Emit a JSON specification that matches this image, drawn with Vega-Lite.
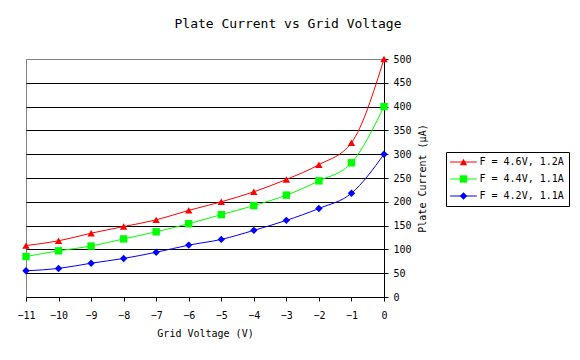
{
  "$schema": "https://vega.github.io/schema/vega-lite/v6.json",
  "width": 358,
  "height": 238,
  "autosize": {"type": "none"},
  "padding": {"left": 26, "top": 59, "right": 196, "bottom": 63},
  "background": "white",
  "title": {
    "text": "Plate Current vs Grid Voltage",
    "font": "DejaVu Sans Mono",
    "fontSize": 13,
    "fontWeight": "normal",
    "color": "black",
    "anchor": "middle",
    "frame": "group",
    "dx": 83,
    "offset": 23
  },
  "data": {
    "values": [
      {"v": -11, "s": "F = 4.6V, 1.2A", "i": 108},
      {"v": -10, "s": "F = 4.6V, 1.2A", "i": 118},
      {"v": -9, "s": "F = 4.6V, 1.2A", "i": 134},
      {"v": -8, "s": "F = 4.6V, 1.2A", "i": 148},
      {"v": -7, "s": "F = 4.6V, 1.2A", "i": 162},
      {"v": -6, "s": "F = 4.6V, 1.2A", "i": 182},
      {"v": -5, "s": "F = 4.6V, 1.2A", "i": 200},
      {"v": -4, "s": "F = 4.6V, 1.2A", "i": 221},
      {"v": -3, "s": "F = 4.6V, 1.2A", "i": 247},
      {"v": -2, "s": "F = 4.6V, 1.2A", "i": 278},
      {"v": -1, "s": "F = 4.6V, 1.2A", "i": 324},
      {"v": 0, "s": "F = 4.6V, 1.2A", "i": 500},
      {"v": -11, "s": "F = 4.4V, 1.1A", "i": 85},
      {"v": -10, "s": "F = 4.4V, 1.1A", "i": 97},
      {"v": -9, "s": "F = 4.4V, 1.1A", "i": 107},
      {"v": -8, "s": "F = 4.4V, 1.1A", "i": 122},
      {"v": -7, "s": "F = 4.4V, 1.1A", "i": 137},
      {"v": -6, "s": "F = 4.4V, 1.1A", "i": 154},
      {"v": -5, "s": "F = 4.4V, 1.1A", "i": 173},
      {"v": -4, "s": "F = 4.4V, 1.1A", "i": 192},
      {"v": -3, "s": "F = 4.4V, 1.1A", "i": 214},
      {"v": -2, "s": "F = 4.4V, 1.1A", "i": 244},
      {"v": -1, "s": "F = 4.4V, 1.1A", "i": 282},
      {"v": 0, "s": "F = 4.4V, 1.1A", "i": 400},
      {"v": -11, "s": "F = 4.2V, 1.1A", "i": 55},
      {"v": -10, "s": "F = 4.2V, 1.1A", "i": 60},
      {"v": -9, "s": "F = 4.2V, 1.1A", "i": 71},
      {"v": -8, "s": "F = 4.2V, 1.1A", "i": 81},
      {"v": -7, "s": "F = 4.2V, 1.1A", "i": 94},
      {"v": -6, "s": "F = 4.2V, 1.1A", "i": 109},
      {"v": -5, "s": "F = 4.2V, 1.1A", "i": 121},
      {"v": -4, "s": "F = 4.2V, 1.1A", "i": 140},
      {"v": -3, "s": "F = 4.2V, 1.1A", "i": 161},
      {"v": -2, "s": "F = 4.2V, 1.1A", "i": 186},
      {"v": -1, "s": "F = 4.2V, 1.1A", "i": 218},
      {"v": 0, "s": "F = 4.2V, 1.1A", "i": 300}
    ]
  },
  "encoding": {
    "x": {
      "field": "v",
      "type": "quantitative",
      "scale": {"domain": [-11, 0], "nice": false, "zero": false},
      "axis": {
        "title": "Grid Voltage (V)",
        "values": [-11, -10, -9, -8, -7, -6, -5, -4, -3, -2, -1, 0],
        "grid": false,
        "domainColor": "black",
        "tickColor": "black",
        "tickSize": 4,
        "labelPadding": 9,
        "titlePadding": 8,
        "labelFont": "DejaVu Sans Mono",
        "labelFontSize": 10,
        "labelColor": "black",
        "titleFont": "DejaVu Sans Mono",
        "titleFontSize": 10,
        "titleFontWeight": "normal",
        "titleColor": "black",
        "labelFlush": false
      }
    },
    "y": {
      "field": "i",
      "type": "quantitative",
      "scale": {"domain": [0, 500], "nice": false},
      "axis": {
        "orient": "right",
        "title": "Plate Current (µA)",
        "titleAngle": 270,
        "titleBaseline": "top",
        "values": [0, 50, 100, 150, 200, 250, 300, 350, 400, 450, 500],
        "grid": true,
        "gridColor": {"condition": {"test": "datum.value == 500 || datum.value == 0", "value": "#808080"}, "value": "black"},
        "gridOpacity": 1,
        "domainColor": "black",
        "tickColor": "black",
        "tickSize": 4,
        "labelPadding": 5,
        "titlePadding": 6,
        "labelFont": "DejaVu Sans Mono",
        "labelFontSize": 10,
        "labelColor": "black",
        "titleFont": "DejaVu Sans Mono",
        "titleFontSize": 10,
        "titleFontWeight": "normal",
        "titleColor": "black",
        "labelFlush": false
      }
    }
  },
  "layer": [
    {
      "mark": {"type": "line", "strokeWidth": 1, "interpolate": "monotone"},
      "encoding": {
        "stroke": {
          "field": "s",
          "type": "nominal",
          "sort": "descending",
          "scale": {"range": ["#ff0000", "#00ff00", "#0000ff"]},
          "legend": {
            "title": null,
            "orient": "none",
            "legendX": 420,
            "legendY": 93,
            "zindex": 2,
            "padding": 5,
            "symbolType": "M-3.6,0H3.6",
            "symbolSize": 55,
            "symbolStrokeWidth": 1,
            "symbolOffset": 7.5,
            "labelOffset": 11,
            "labelFont": "DejaVu Sans Mono",
            "labelFontSize": 10,
            "labelOpacity": 0,
            "rowPadding": 7
          }
        }
      }
    },
    {
      "mark": {"type": "point", "filled": true, "opacity": 1, "size": 55},
      "encoding": {
        "color": {
          "field": "s",
          "type": "nominal",
          "scale": {
            "domain": ["F = 4.6V, 1.2A", "F = 4.4V, 1.1A", "F = 4.2V, 1.1A"],
            "range": ["#ff0000", "#00ff00", "#0000ff"]
          },
          "legend": {
            "title": null,
            "orient": "none",
            "legendX": 420,
            "legendY": 93,
            "zindex": 1,
            "strokeColor": "black",
            "fillColor": "white",
            "padding": 5,
            "symbolSize": 55,
            "symbolOffset": 7.5,
            "labelOffset": 11,
            "labelFont": "DejaVu Sans Mono",
            "labelFontSize": 10,
            "labelColor": "black",
            "rowPadding": 7
          }
        },
        "shape": {
          "field": "s",
          "type": "nominal",
          "scale": {
            "domain": ["F = 4.6V, 1.2A", "F = 4.4V, 1.1A", "F = 4.2V, 1.1A"],
            "range": ["triangle-up", "square", "diamond"]
          },
          "legend": {
            "title": null,
            "orient": "none",
            "legendX": 420,
            "legendY": 93
          }
        }
      }
    }
  ],
  "config": {
    "view": {"stroke": "#808080", "strokeWidth": 1}
  }
}
